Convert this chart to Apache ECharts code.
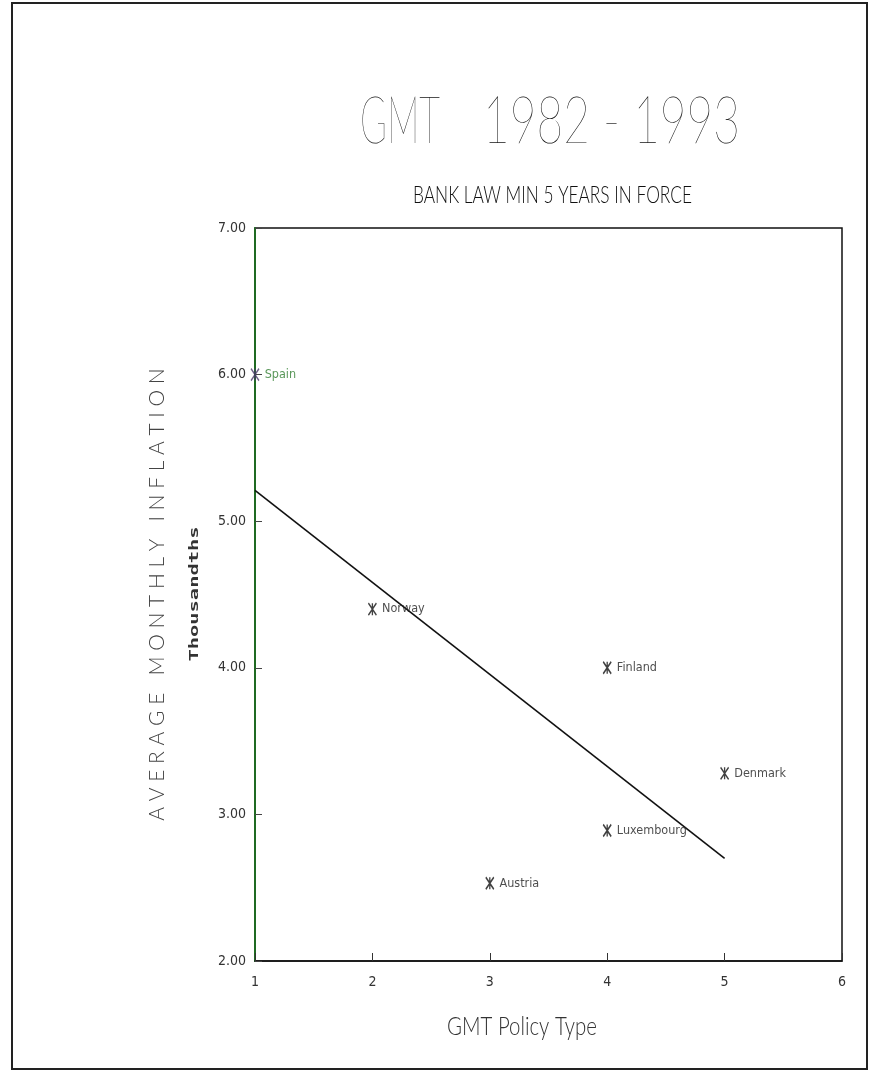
<!DOCTYPE html>
<html>
<head>
<meta charset="utf-8">
<script src="https://cdn.jsdelivr.net/npm/echarts@6/dist/echarts.min.js"></script>
<style>
  html, body { margin: 0; padding: 0; background: #ffffff; }
  #chart { width: 879px; height: 1077px; }
</style>
</head>
<body>
<div id="chart"></div>
<script>
// Countries and their policy type / average monthly inflation (thousandths)
const countries  = ['Spain', 'Norway', 'Austria', 'Finland', 'Luxembourg', 'Denmark'];
const policyType = [1, 2, 3, 4, 4, 5];
const inflation  = [6.00, 4.40, 2.53, 4.00, 2.89, 3.28];

// Fitted trend line end points
const trendX = [1, 5];
const trendY = [5.21, 2.70];

// Axis ranges
const xTicks = [1, 2, 3, 4, 5, 6];
const yTicks = [2, 3, 4, 5, 6, 7];

const NARROW = "'Liberation Sans Narrow', 'DejaVu Sans Condensed', sans-serif";
const THIN = "'Lato', 'DejaVu Sans', sans-serif";
const AXIS_GREEN = '#1f6a22';

// horizontal squeeze so a string occupies a given pixel width (plotter-style lettering)
const measureCtx = document.createElement('canvas').getContext('2d');
function fitScale(text, font, width) {
  measureCtx.font = font;
  return width / measureCtx.measureText(text).width;
}

function plotterText(text, font, x, y, width, fill) {
  return {
    type: 'text', x: x, y: y, scaleX: fitScale(text, font, width),
    style: { text: text, font: font, fill: fill, textAlign: 'left', textVerticalAlign: 'middle' }
  };
}

// asterisk-like marker: an X crossed by a vertical bar
const STAR = 'path://M0,0 L8,12 M8,0 L0,12 M4,0 L4,12';

const points = policyType.map((x, i) => {
  const item = { name: countries[i], value: [x, inflation[i]] };
  if (i === 0) {
    item.itemStyle = { borderColor: '#4a3a6a' };
    item.label = { color: '#2f7d2f' };
  }
  return item;
});

const chart = echarts.init(document.getElementById('chart'), null, { renderer: 'canvas' });

const titleFont = '200 67px ' + THIN;
const subFont = '300 23px ' + THIN;
const xNameFont = '300 26px ' + THIN;

chart.setOption({
  backgroundColor: '#ffffff',
  animation: false,
  grid: {
    left: 255, top: 228, width: 587, height: 733,
    show: true, borderColor: '#111', borderWidth: 1.5, backgroundColor: 'transparent'
  },
  xAxis: {
    type: 'value',
    min: xTicks[0], max: xTicks[xTicks.length - 1], interval: 1,
    axisLine: { show: true, lineStyle: { color: '#111', width: 1.5 } },
    axisTick: { show: true, inside: true, length: 8, lineStyle: { color: '#333' } },
    axisLabel: { margin: 14, fontFamily: NARROW, fontSize: 14, color: '#333',
                 formatter: v => String(v) },
    splitLine: { show: false }
  },
  yAxis: {
    type: 'value',
    min: yTicks[0], max: yTicks[yTicks.length - 1], interval: 1,
    axisLine: { show: true, lineStyle: { color: AXIS_GREEN, width: 2 } },
    axisTick: { show: true, inside: true, length: 7, lineStyle: { color: '#444' } },
    axisLabel: { margin: 9, fontFamily: NARROW, fontSize: 14, color: '#333',
                 formatter: v => v.toFixed(2) },
    splitLine: { show: false },
    name: 'A V E R A G E   M O N T H L Y   I N F L A T I O N',
    nameLocation: 'middle',
    nameGap: 87,
    nameTextStyle: { fontFamily: THIN, fontWeight: 300, fontSize: 21, color: '#444' }
  },
  series: [
    {
      type: 'line',
      data: trendX.map((x, i) => [x, trendY[i]]),
      symbol: 'none',
      lineStyle: { color: '#111', width: 1.6 },
      z: 2
    },
    {
      type: 'scatter',
      data: points,
      symbol: STAR,
      symbolSize: [8, 12],
      itemStyle: { color: 'transparent', borderColor: '#111', borderWidth: 1.6 },
      label: {
        show: true, position: 'right', distance: 5,
        formatter: p => p.name,
        fontFamily: NARROW, fontSize: 12.5, color: '#222'
      },
      z: 3
    }
  ],
  graphic: [
    {
      type: 'rect', silent: true,
      shape: { x: 12, y: 3, width: 855, height: 1066 },
      style: { fill: 'none', stroke: '#222', lineWidth: 2 }
    },
    plotterText('GMT', titleFont, 360, 121, 80, '#111'),
    plotterText('1982 - 1993', titleFont, 483, 121, 257, '#111'),
    plotterText('BANK LAW MIN 5 YEARS IN FORCE', subFont, 413, 196, 279, '#111'),
    plotterText('GMT Policy Type', xNameFont, 447, 1027, 150, '#333'),
    {
      type: 'text', x: 195, y: 594, rotation: Math.PI / 2, scaleX: 1.7,
      style: {
        text: 'Thousandths',
        font: "bold 12px 'DejaVu Sans Mono', monospace",
        fill: '#333', textAlign: 'center', textVerticalAlign: 'middle'
      }
    }
  ]
});
</script>
</body>
</html>
